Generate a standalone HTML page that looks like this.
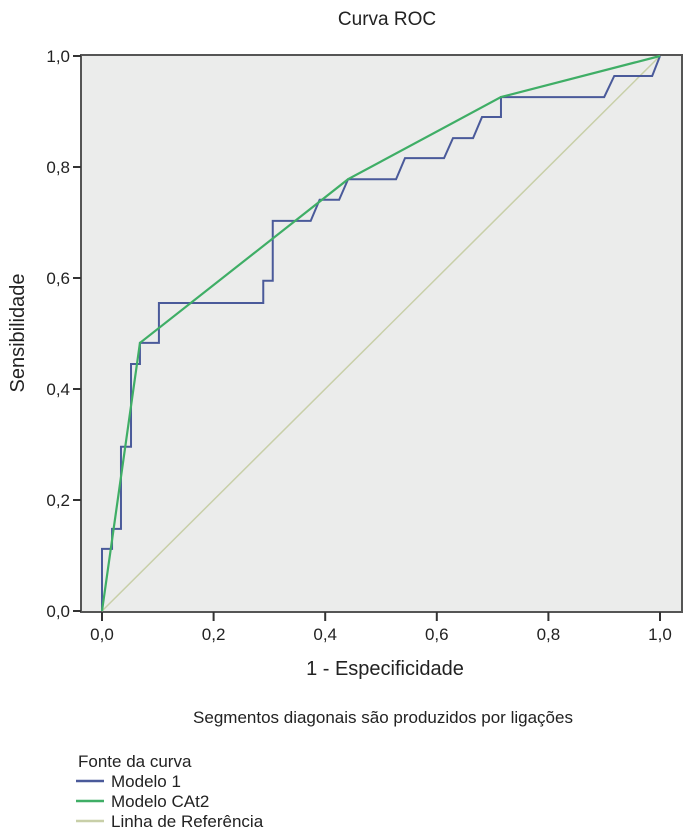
<!DOCTYPE html>
<html><head><meta charset="utf-8"><style>
body{margin:0;background:#fff;}
svg{display:block;font-family:"Liberation Sans",Arial,sans-serif;fill:#222;}
</style></head><body>
<svg width="700" height="840" viewBox="0 0 700 840">
<text x="387" y="25" font-size="19" text-anchor="middle">Curva ROC</text>
<rect x="81" y="55" width="601" height="557" fill="#ebeceb" stroke="#555" stroke-width="2"/>
<g id="axes"></g>
<g id="marks"></g>
<text x="385" y="675" font-size="20" text-anchor="middle">1 - Especificidade</text>
<text transform="translate(24,333) rotate(-90)" font-size="20" text-anchor="middle">Sensibilidade</text>
<text x="383" y="723" font-size="17" text-anchor="middle">Segmentos diagonais são produzidos por ligações</text>
<g>
<text x="78" y="767" font-size="17">Fonte da curva</text>
<line x1="76" y1="781" x2="104" y2="781" stroke="#4a5a9a" stroke-width="2.5"/>
<text x="111" y="787" font-size="17">Modelo 1</text>
<line x1="76" y1="801" x2="104" y2="801" stroke="#3fae66" stroke-width="2.5"/>
<text x="111" y="807" font-size="17">Modelo CAt2</text>
<line x1="76" y1="821" x2="104" y2="821" stroke="#c8cfa8" stroke-width="2.5"/>
<text x="111" y="827" font-size="17">Linha de Referência</text>
</g>
</svg>
<script>
const ticks=[0,0.2,0.4,0.6,0.8,1.0];
const tickLabels=["0,0","0,2","0,4","0,6","0,8","1,0"];
const model1Fpr=[0,0,0.018,0.018,0.034,0.034,0.052,0.052,0.068,0.068,0.102,0.102,0.289,0.289,0.306,0.306,0.374,0.39,0.425,0.441,0.527,0.543,0.613,0.629,0.665,0.681,0.715,0.715,0.9,0.918,0.986,1];
const model1Tpr=[0,0.112,0.112,0.148,0.148,0.296,0.296,0.445,0.445,0.483,0.483,0.555,0.555,0.595,0.595,0.703,0.703,0.741,0.741,0.778,0.778,0.816,0.816,0.852,0.852,0.89,0.89,0.926,0.926,0.964,0.964,1];
const cat2Fpr=[0,0.068,0.441,0.715,1];
const cat2Tpr=[0,0.483,0.778,0.926,1];
const refFpr=[0,1];
const refTpr=[0,1];
const X=v=>102+v*558, Y=v=>611-v*555;
const NS="http://www.w3.org/2000/svg";
const axes=document.getElementById('axes'), marks=document.getElementById('marks');
ticks.forEach((t,i)=>{
  let l=document.createElementNS(NS,'line');
  l.setAttribute('x1',73);l.setAttribute('x2',81);l.setAttribute('y1',Y(t));l.setAttribute('y2',Y(t));l.setAttribute('stroke','#333');l.setAttribute('stroke-width','2');
  
  
  axes.appendChild(l);
  let tx=document.createElementNS(NS,'text');
  tx.setAttribute('x',70);tx.setAttribute('y',Y(t)+6);tx.setAttribute('font-size','17');tx.setAttribute('text-anchor','end');tx.textContent=tickLabels[i];
  
  
  axes.appendChild(tx);
  let m=document.createElementNS(NS,'line');
  m.setAttribute('x1',X(t));m.setAttribute('x2',X(t));m.setAttribute('y1',612);m.setAttribute('y2',621);m.setAttribute('stroke','#333');m.setAttribute('stroke-width','2');
  
  
  axes.appendChild(m);
  let tx2=document.createElementNS(NS,'text');
  tx2.setAttribute('x',X(t));tx2.setAttribute('y',640);tx2.setAttribute('font-size','17');tx2.setAttribute('text-anchor','middle');tx2.textContent=tickLabels[i];
  
  
  axes.appendChild(tx2);
});
function line(xs,ys,color,w,name){
  let p=document.createElementNS(NS,'polyline');
  p.setAttribute('points',xs.map((x,i)=>X(x)+','+Y(ys[i])).join(' '));
  p.setAttribute('fill','none');p.setAttribute('stroke',color);p.setAttribute('stroke-width',w);
  
  
  marks.appendChild(p);
}
line(refFpr,refTpr,'#c8cfa8',1.5,'reference-line');
line(model1Fpr,model1Tpr,'#4a5a9a',2,'modelo1-curve');
line(cat2Fpr,cat2Tpr,'#3fae66',2.2,'cat2-curve');
</script>
</body></html>
